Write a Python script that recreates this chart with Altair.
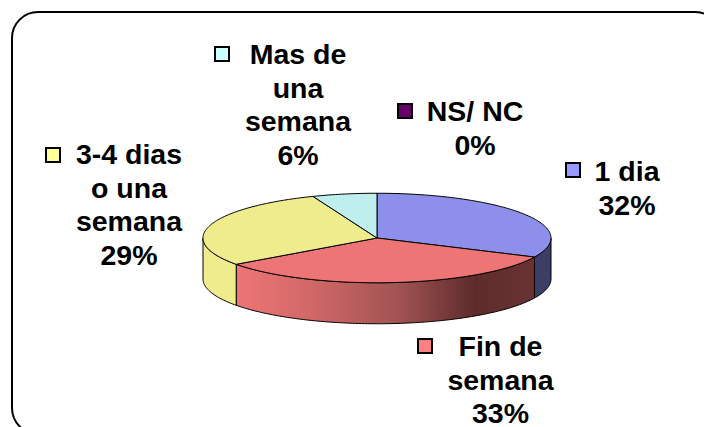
import math
import altair as alt
import pandas as pd

# --- chart values -------------------------------------------------------
categories = ["1 dia", "Fin de semana", "3-4 dias o una semana", "Mas de una semana", "NS/ NC"]
values = [32, 33, 29, 6, 0]
top_colors = ["#8E8EEB", "#EE7575", "#EEEC8C", "#BEEEEE", "#5F005F"]
side_colors = ["#3D3D66", None, "#EEEC8C", "#BEEEEE", "#5F005F"]
key_colors = ["#9999FF", "#FF8080", "#FFFF99", "#CCFFFF", "#660066"]

label_lines = [
    ["1 dia", "32%"],
    ["Fin de", "semana", "33%"],
    ["3-4 dias", "o una", "semana", "29%"],
    ["Mas de", "una", "semana", "6%"],
    ["NS/ NC", "0%"],
]
label_x = [627, 500.5, 129, 298, 475]
label_y = [172, 347, 155, 55, 112]
line_gap = 33.6
key_x = [573, 425, 53, 222, 405]
key_y = [170, 346, 155, 54, 111]

cx, cy, rx, ry, depth = 377, 238, 174, 44.75, 41

# --- scales ------------------------------------------------------------
xs = alt.Scale(domain=[8, 704], range=[0, 696], nice=False, zero=False)
ys = alt.Scale(domain=[8, 427], range=[0, 419], nice=False, zero=False)
X = alt.X("x:Q", scale=xs, axis=None)
Y = alt.Y("y:Q", scale=ys, axis=None)


def px(t):
    return cx + rx * math.sin(math.radians(t))


def py(t, dz=0):
    return cy - ry * math.cos(math.radians(t)) + dz


def arc(a, b, dz=0):
    n = max(2, int(abs(b - a)) + 2)
    return [(px(a + (b - a) * k / (n - 1)), py(a + (b - a) * k / (n - 1), dz)) for k in range(n)]


def poly_layer(points, fill, stroke_width=1):
    rows = [{"x": p[0], "y": p[1], "i": k} for k, p in enumerate(points + points[:1])]
    return (
        alt.Chart(alt.Data(values=rows))
        .mark_line(fill=fill, stroke="#000000", strokeWidth=stroke_width, strokeJoin="round", interpolate="linear")
        .encode(x=X, y=Y, order=alt.Order("i:Q"))
    )


red_gradient = alt.Gradient(
    gradient="linear",
    x1=0, x2=1, y1=0, y2=0,
    stops=[
        alt.GradientStop(offset=0.0, color="#EE7575"),
        alt.GradientStop(offset=0.25, color="#D26868"),
        alt.GradientStop(offset=0.55, color="#A05252"),
        alt.GradientStop(offset=0.8, color="#5E2B2B"),
        alt.GradientStop(offset=1.0, color="#6A3333"),
    ],
)

layers = []

# border
border = pd.DataFrame({"x": [12], "x2": [721], "y": [12], "y2": [434]})
layers.append(
    alt.Chart(border)
    .mark_rect(filled=False, stroke="#000000", strokeWidth=2, cornerRadius=26, clip=True)
    .encode(x=X, x2="x2:Q", y=Y, y2="y2:Q")
)

# slices
start = 0.0
spans = []
for v in values:
    spans.append((start, start + v * 3.6))
    start += v * 3.6

for (a, b), side, in zip(spans, side_colors):
    lo, hi = max(a, 90), min(b, 270)
    if hi > lo:
        fill = side if side else red_gradient
        layers.append(poly_layer(arc(lo, hi) + arc(hi, lo, depth), fill))

for (a, b), col in zip(spans, top_colors):
    if b > a:
        layers.append(poly_layer([(cx, cy)] + arc(a, b), col))

# labels
rows = []
for lines, lx, ly in zip(label_lines, label_x, label_y):
    for k, s in enumerate(lines):
        rows.append({"x": lx, "y": ly + k * line_gap, "t": s})
layers.append(
    alt.Chart(pd.DataFrame(rows))
    .mark_text(font="Liberation Sans", fontWeight="bold", fontSize=28.5, color="#000000", align="center", baseline="middle")
    .encode(x=X, y=Y, text="t:N")
)

# label keys
keys = pd.DataFrame({"x": key_x, "y": key_y, "c": key_colors})
layers.append(
    alt.Chart(keys)
    .mark_point(shape="square", filled=True, size=196, stroke="#000000", strokeWidth=2, opacity=1)
    .encode(x=X, y=Y, fill=alt.Fill("c:N", scale=None))
)

chart = (
    alt.layer(*layers)
    .properties(width=696, height=419, padding=0, background="#FFFFFF", autosize=alt.AutoSizeParams(type="none"))
    .configure_view(stroke=None)
)

chart.save("out.html", embed_options={"renderer": "svg", "actions": False})
